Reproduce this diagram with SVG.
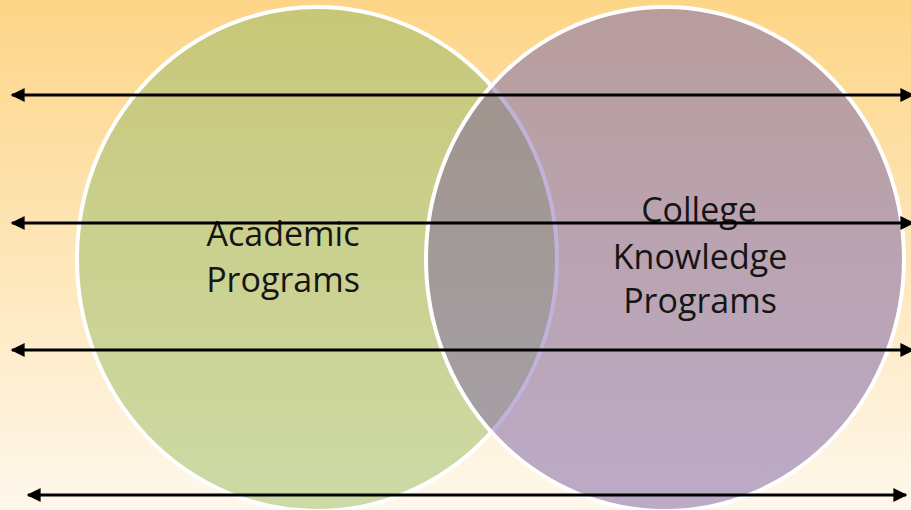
<svg xmlns="http://www.w3.org/2000/svg" width="911" height="510" viewBox="0 0 911 510">
<defs>
<linearGradient id="bg" x1="0" y1="0" x2="0" y2="1">
<stop offset="0" stop-color="#fdd587"/>
<stop offset="0.5" stop-color="#fee6b8"/>
<stop offset="1" stop-color="#fef8ec"/>
</linearGradient>
<linearGradient id="gL" gradientUnits="userSpaceOnUse" x1="0" y1="7" x2="0" y2="509">
<stop offset="0" stop-color="#c8c778"/>
<stop offset="1" stop-color="#cddaa6"/>
</linearGradient>
<linearGradient id="gR" gradientUnits="userSpaceOnUse" x1="0" y1="7" x2="0" y2="509">
<stop offset="0" stop-color="#b89d9c"/>
<stop offset="1" stop-color="#bcaac7"/>
</linearGradient>
<linearGradient id="gO" gradientUnits="userSpaceOnUse" x1="0" y1="80" x2="0" y2="440">
<stop offset="0" stop-color="#a0958d"/>
<stop offset="1" stop-color="#a59fa5"/>
</linearGradient>
<clipPath id="clipL"><ellipse cx="317" cy="259" rx="240" ry="252"/></clipPath>
<clipPath id="clipR"><ellipse cx="665" cy="259" rx="239" ry="252"/></clipPath>
<marker id="ah" viewBox="0 0 10 10" refX="9" refY="5" markerWidth="15" markerHeight="14" markerUnits="userSpaceOnUse" orient="auto-start-reverse">
<path d="M0,0 L10,5 L0,10 Z" fill="#000"/>
</marker>
<style>
.lbl{font-family:"Open Sans","Liberation Sans",sans-serif;font-size:34px;fill:#151515;text-anchor:middle}
.arr{stroke:#000;stroke-width:3;fill:none;marker-start:url(#ah);marker-end:url(#ah)}
.edge{fill:none;stroke:#fff;stroke-width:4}
</style>
</defs>
<rect x="0" y="0" width="911" height="510" fill="url(#bg)"/>
<g id="academic">
<ellipse cx="317" cy="259" rx="240" ry="252" fill="url(#gL)"/>
<ellipse cx="317" cy="259" rx="240" ry="252" class="edge"/>
</g>
<g id="college">
<ellipse cx="665" cy="259" rx="239" ry="252" fill="url(#gR)"/>
</g>
<g id="overlap">
<ellipse cx="665" cy="259" rx="239" ry="252" fill="url(#gO)" clip-path="url(#clipL)"/>
<ellipse cx="317" cy="259" rx="240" ry="252" fill="none" stroke="#c0b2d8" stroke-width="4" clip-path="url(#clipR)"/>
</g>
<g id="college-edge">
<ellipse cx="665" cy="259" rx="239" ry="252" class="edge"/>
</g>
<g id="labels">
<text class="lbl" x="283" y="246">Academic</text>
<text class="lbl" x="283" y="292">Programs</text>
<text class="lbl" x="699" y="222">College</text>
<text class="lbl" x="700" y="269">Knowledge</text>
<text class="lbl" x="700" y="313">Programs</text>
</g>
<g id="connectors">
<line class="arr" x1="12" y1="95" x2="913" y2="95"/>
<line class="arr" x1="12" y1="223" x2="913" y2="223"/>
<line class="arr" x1="12" y1="350" x2="913" y2="350"/>
<line class="arr" x1="28" y1="495" x2="906" y2="495"/>
</g>
</svg>
